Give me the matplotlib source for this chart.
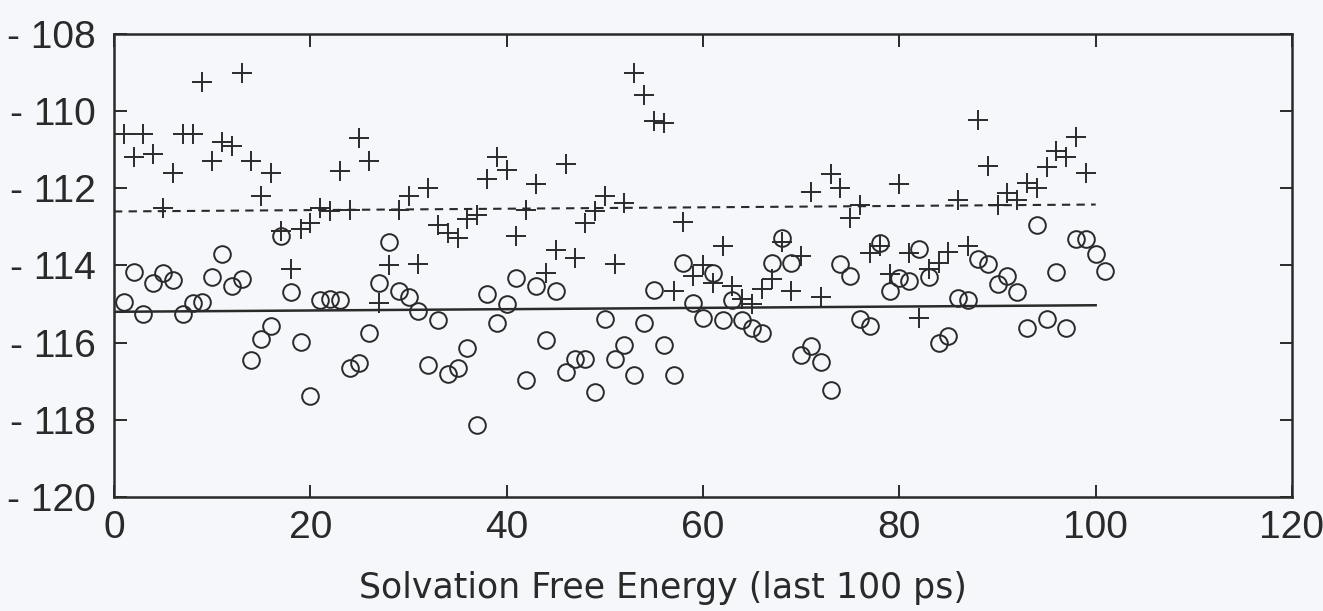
import matplotlib.pyplot as plt
from matplotlib.ticker import FuncFormatter

## Solvation free energy, last 100 ps
plus_x = list(range(1, 100))
plus_y = [-110.6, -111.2, -110.6, -111.1, -112.5, -111.6, -110.6, -110.6, -109.25, -111.3,
          -110.8, -110.9, -109.0, -111.3, -112.2, -111.6, -113.1, -114.1, -113.06, -112.9,
          -112.5, -112.6, -111.55, -112.55, -110.7, -111.3, -114.96, -114.0, -112.55, -112.2,
          -113.97, -111.98, -112.94, -113.15, -113.28, -112.8, -112.7, -111.77, -111.2, -111.52,
          -113.24, -112.55, -111.88, -114.19, -113.6, -111.38, -113.8, -112.89, -112.6, -112.2,
          -113.95, -112.37, -109.0, -109.57, -110.25, -110.3, -114.67, -112.87, -114.28, -114.0,
          -114.45, -113.5, -114.54, -114.88, -115.0, -114.62, -114.36, -113.4, -114.67, -113.76,
          -112.1, -114.81, -111.64, -111.98, -112.76, -112.42, -113.67, -113.5, -114.23, -111.9,
          -113.67, -115.36, -114.1, -113.93, -113.66, -112.29, -113.5, -110.23, -111.42, -112.42,
          -112.11, -112.29, -111.85, -111.98, -111.46, -111.03, -111.2, -110.68, -111.6]

circ_x = list(range(1, 102))
circ_y = [-114.94, -114.16, -115.25, -114.45, -114.2, -114.38, -115.25, -114.96, -114.94, -114.3,
          -113.7, -114.54, -114.36, -116.46, -115.9, -115.56, -113.24, -114.69, -115.97, -117.37,
          -114.9, -114.86, -114.9, -116.66, -116.53, -115.75, -114.45, -113.4, -114.67, -114.81,
          -115.19, -116.57, -115.4, -116.8, -116.66, -116.14, -118.13, -114.73, -115.5, -115.0,
          -114.32, -116.98, -114.54, -115.92, -114.67, -116.77, -116.42, -116.42, -117.27, -115.38,
          -116.42, -116.05, -116.83, -115.5, -114.64, -116.05, -116.83, -113.93, -114.97, -115.36,
          -114.19, -115.4, -114.9, -115.4, -115.62, -115.75, -113.93, -113.3, -113.93, -116.31,
          -116.08, -116.51, -117.22, -113.97, -114.28, -115.38, -115.56, -113.41, -114.67, -114.32,
          -114.41, -113.58, -114.3, -116.0, -115.84, -114.84, -114.9, -113.84, -113.97, -114.49,
          -114.28, -114.69, -115.62, -112.94, -115.38, -114.17, -115.62, -113.32, -113.32, -113.69,
          -114.15]

## average lines (start, end)
mean_x = [0, 100]
plus_mean = [-112.6, -112.42]
circ_mean = [-115.2, -115.03]

x_ticks = [0, 20, 40, 60, 80, 100, 120]
y_ticks = [-120, -118, -116, -114, -112, -110, -108]

plt.rcParams['font.family'] = ['Liberation Sans', 'DejaVu Sans']

fig = plt.figure(figsize=(13.23, 6.11), dpi=100)
fig.patch.set_facecolor('#f6f7fb')
ax = fig.add_axes([114/1323, 1 - 497/611, (1292 - 114)/1323, (497 - 34)/611])
ax.set_facecolor('#f6f7fb')

ax.plot(plus_x, plus_y, linestyle='none', marker='+', markersize=15,
        markeredgewidth=1.4, color='#2a2a2a')
ax.plot(circ_x, circ_y, linestyle='none', marker='o', markersize=12,
        markerfacecolor='none', markeredgewidth=1.4, color='#2a2a2a')
ax.plot(mean_x, plus_mean, linestyle=(0, (4, 3)), linewidth=1.5, color='#2a2a2a')
ax.plot(mean_x, circ_mean, linestyle='-', linewidth=1.8, color='#2a2a2a')

## Axes ranges and ticks
ax.set_xlim(0, 120)
ax.set_ylim(-120, -108)
ax.set_xticks(x_ticks)
ax.set_yticks(y_ticks)
ax.yaxis.set_major_formatter(FuncFormatter(lambda v, p: '- %d' % abs(v)))
ax.tick_params(axis='both', which='major', direction='in', length=9, width=1.4,
               top=True, right=True, labelsize=28, colors='#2a2a2a', pad=9)
ax.tick_params(axis='y', pad=13)
for s in ax.spines.values():
    s.set_linewidth(1.8)
    s.set_color('#2a2a2a')

fig.text(663/1323, 1 - 588/611, 'Solvation Free Energy (last 100 ps)',
         ha='center', va='center', fontsize=25, color='#2a2a2a',
         family='DejaVu Sans')

## Save file
plt.savefig('out.png', dpi=100)
